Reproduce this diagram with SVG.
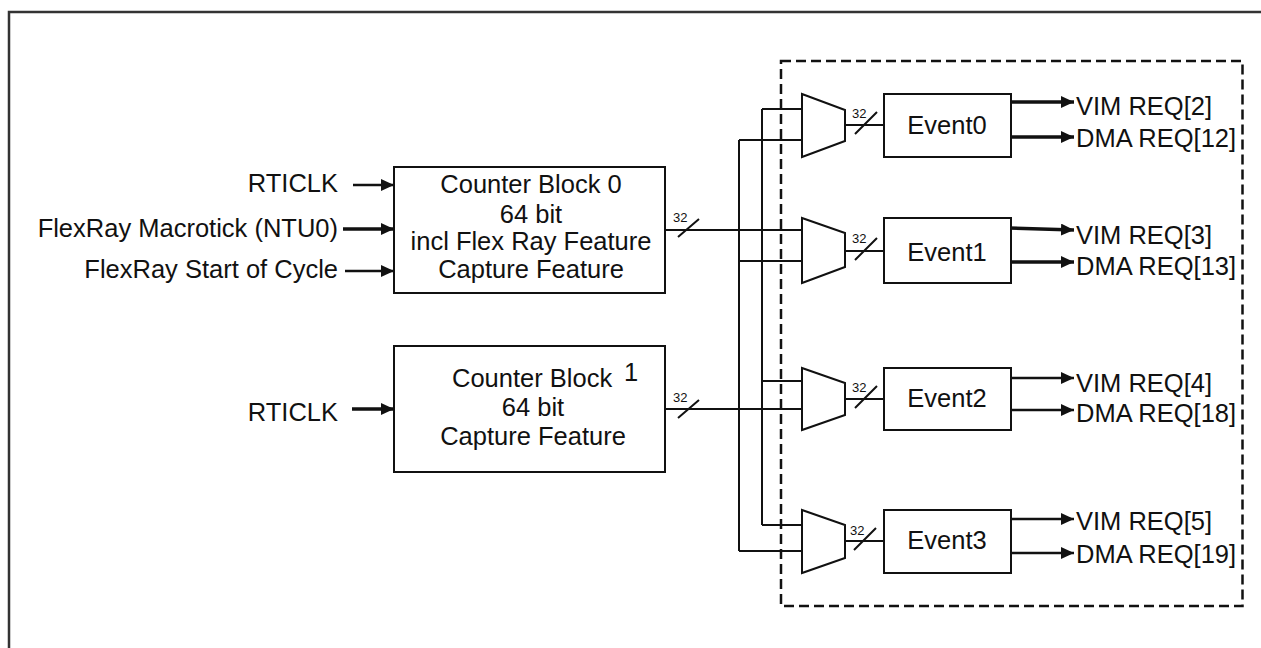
<svg xmlns="http://www.w3.org/2000/svg" width="1261" height="648" viewBox="0 0 1261 648">
<defs>
<style>
.t{font-family:"Liberation Sans",Arial,Helvetica,sans-serif;font-size:25.5px;fill:#111}
.s{font-family:"Liberation Sans",Arial,Helvetica,sans-serif;font-size:13px;fill:#111}
.box{fill:#fff;stroke:#111;stroke-width:2}
.w{fill:none;stroke:#111;stroke-width:2}
.a{fill:none;stroke:#111;stroke-width:2.5;marker-end:url(#ah)}
.ak{fill:none;stroke:#111;stroke-width:3.5;marker-end:url(#ah)}
</style>
<marker id="ah" markerUnits="userSpaceOnUse" markerWidth="14" markerHeight="12" refX="13" refY="6" orient="auto">
<path d="M0,0 L13,6 L0,12 Z" fill="#111"/>
</marker>
</defs>
<rect width="1261" height="648" fill="#fff"/>
<path d="M9,648 V12 H1261" fill="none" stroke="#333" stroke-width="2.5"/>
<rect x="781" y="61" width="461.5" height="545" fill="none" stroke="#111" stroke-width="2.5" stroke-dasharray="10,5"/>

<g id="connectors">
<path class="a" d="M353,185 H394"/>
<path class="ak" d="M343,229 H394"/>
<path class="a" d="M345,271 H394"/>
<path class="ak" d="M352,409 H394"/>
<path class="w" d="M665,230 H802 M665,409 H802"/>
<path class="w" d="M678,237 L699,219 M678,418 L699,400"/>
<path class="w" d="M762,109 V525 M739,140 V551"/>
<path class="w" d="M762,109 H805 M739,140 H802 M739,261 H802 M762,381 H802 M762,525 H802 M739,551 H802"/>
<path class="w" d="M845,125 H884 M845,251 H884 M845,399 H884 M845,541 H884"/>
<path class="w" d="M855,134 L877,112 M855,260 L877,238 M855,408 L877,386 M854,550 L876,528"/>
<path class="ak" d="M1009,102 H1074"/>
<path class="ak" d="M1009,137 H1074"/>
<path class="ak" d="M1009,228 L1074,230"/>
<path class="ak" d="M1009,262 H1074"/>
<path class="a" d="M1009,378 H1074"/>
<path class="a" d="M1009,410 H1074"/>
<path class="a" d="M1009,519 H1074"/>
<path class="a" d="M1009,553 H1074"/>
<text class="s" x="673" y="222">32</text>
<text class="s" x="673" y="402">32</text>
<text class="s" x="852" y="118">32</text>
<text class="s" x="852" y="243">32</text>
<text class="s" x="852" y="392">32</text>
<text class="s" x="850" y="535">32</text>
</g>

<g id="inputs">
<text class="t" x="338" y="192" text-anchor="end">RTICLK</text>
<text class="t" x="338" y="237" text-anchor="end">FlexRay Macrotick (NTU0)</text>
<text class="t" x="338" y="278" text-anchor="end">FlexRay Start of Cycle</text>
<text class="t" x="338" y="421" text-anchor="end">RTICLK</text>
</g>

<g id="counter0">
<rect class="box" x="394" y="167" width="271" height="126"/>
<text class="t" x="531" y="193" text-anchor="middle">Counter Block 0</text>
<text class="t" x="531" y="223" text-anchor="middle">64 bit</text>
<text class="t" x="531" y="250" text-anchor="middle">incl Flex Ray Feature</text>
<text class="t" x="531" y="278" text-anchor="middle">Capture Feature</text>
</g>

<g id="counter1">
<rect class="box" x="394" y="346" width="271" height="126"/>
<text class="t" x="452" y="387">Counter Block</text>
<text class="t" x="624" y="381">1</text>
<text class="t" x="533" y="416" text-anchor="middle">64 bit</text>
<text class="t" x="533" y="445" text-anchor="middle">Capture Feature</text>
</g>

<g id="mux0"><path class="box" d="M802,94 L845,110 L845,141 L802,157 Z"/></g>
<g id="mux1"><path class="box" d="M802,218 L845,233 L845,267 L802,283 Z"/></g>
<g id="mux2"><path class="box" d="M802,368 L845,383 L845,415 L802,430 Z"/></g>
<g id="mux3"><path class="box" d="M802,510 L845,525 L845,558 L802,573 Z"/></g>

<g id="event0">
<rect class="box" x="884" y="94" width="127" height="63"/>
<text class="t" x="947" y="134" text-anchor="middle">Event0</text>
</g>
<g id="event1">
<rect class="box" x="884" y="218" width="127" height="65"/>
<text class="t" x="947" y="261" text-anchor="middle">Event1</text>
</g>
<g id="event2">
<rect class="box" x="884" y="368" width="127" height="62"/>
<text class="t" x="947" y="407" text-anchor="middle">Event2</text>
</g>
<g id="event3">
<rect class="box" x="884" y="510" width="127" height="63"/>
<text class="t" x="947" y="549" text-anchor="middle">Event3</text>
</g>

<g id="outputs">
<text class="t" x="1076" y="115">VIM REQ[2]</text>
<text class="t" x="1076" y="147">DMA REQ[12]</text>
<text class="t" x="1076" y="244">VIM REQ[3]</text>
<text class="t" x="1076" y="275">DMA REQ[13]</text>
<text class="t" x="1076" y="392">VIM REQ[4]</text>
<text class="t" x="1076" y="422">DMA REQ[18]</text>
<text class="t" x="1076" y="530">VIM REQ[5]</text>
<text class="t" x="1076" y="563">DMA REQ[19]</text>
</g>
</svg>
